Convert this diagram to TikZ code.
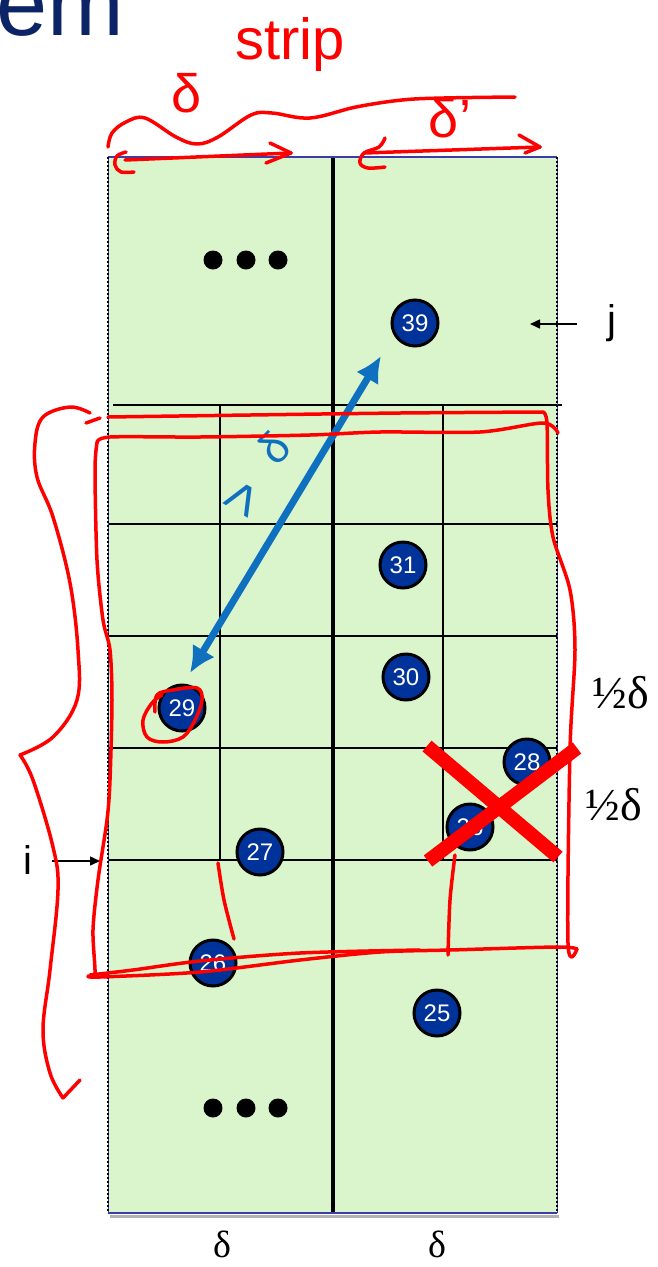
\documentclass[tikz,border=0pt]{standalone}
\usepackage{fontspec}
\setmainfont{Liberation Serif}
\setsansfont{Liberation Sans}
\usetikzlibrary{arrows.meta}
\definecolor{stripgreen}{RGB}{218,245,203}
\definecolor{ptblue}{RGB}{0,51,153}
\definecolor{titleblue}{RGB}{12,36,102}
\definecolor{annblue}{RGB}{16,112,192}
\definecolor{edgeblue}{RGB}{60,60,170}
\definecolor{penred}{RGB}{255,0,0}
\begin{document}
\begin{tikzpicture}[x=1pt,y=-1pt,
  pt/.style={circle, draw=black, line width=3pt, fill=ptblue, text=white,
    font=\sffamily\fontsize{24}{24}\selectfont, minimum size=46pt, inner sep=0pt},
  gridline/.style={black, line width=1.5pt},
  redpen/.style={penred, line width=3.5pt, line cap=round, line join=round},
  lbl/.style={inner sep=0pt, font=\sffamily\fontsize{40}{40}\selectfont},
  dlbl/.style={inner sep=0pt, font=\fontsize{46}{46}\selectfont},
  ptr/.style={black, line width=1.5pt, -{Triangle[length=10pt,width=9pt]}},
  dot/.style={black}
]
\useasboundingbox (0,0) rectangle (657,1267);

% title fragment
\node[anchor=base west, inner sep=0pt, text=titleblue,
  font=\sffamily\fontsize{92}{92}\selectfont] (title) at (-4,35) {em};

% strip background
\fill[stripgreen] (108,157) rectangle (557,1213);

% grid
\draw[gridline] (113,405) -- (562,405);
\foreach \yy in {524,636,748,860} \draw[gridline] (108,\yy) -- (557,\yy);
\draw[gridline] (220,405) -- (220,860);
\draw[gridline] (443,405) -- (443,860);

% middle line
\draw[black, line width=4pt] (333,157) -- (333,1213);

% borders
\draw[edgeblue, line width=1.5pt] (108,157) -- (557,157);
\draw[gray!60, line width=3pt] (110,1216) -- (559,1216);
\draw[edgeblue, line width=1.5pt] (108,1213) -- (557,1213);
\draw[edgeblue, line width=1pt] (108,157) -- (108,1213) (557,157) -- (557,1213);
\draw[black, line width=2pt, dash pattern=on 2pt off 2pt] (108,157) -- (108,1213) (557,157) -- (557,1213);

% ellipsis dots
\foreach \xx in {213,246,278} {
  \fill[dot] (\xx,260) circle (9.5);
  \fill[dot] (\xx,1108) circle (9.5);
}

% points
\node[pt] (n39) at (415,323) {39};
\node[pt] (n31) at (403,565) {31};
\node[pt] (n30) at (406,677) {30};
\node[pt] (n29) at (182,708) {29};
\node[pt] (n28) at (527,762) {28};
\node[pt] (n26b) at (470,827) {26};
\node[pt] (n27) at (260,852) {27};
\node[pt] (n26) at (213,963) {26};
\node[pt] (n25) at (437,1013) {25};

% j and i pointers
\node[lbl] (jlab) at (612,323) {j};
\coordinate (jfrom) at (577,324);
\coordinate (jto) at (530,324);
\draw[ptr] (jfrom) -- (jto);
\node[lbl] (ilab) at (28,860) {i};
\coordinate (ifrom) at (52,861);
\coordinate (ito) at (100,861);
\draw[ptr] (ifrom) -- (ito);

% half delta labels
\node[dlbl] (h1) at (621,693) {½δ};
\node[dlbl] (h2) at (614,805) {½δ};
% bottom delta labels
\node[dlbl, font=\fontsize{38}{38}\selectfont] (d1) at (222,1244) {δ};
\node[dlbl, font=\fontsize{38}{38}\selectfont] (d2) at (437,1244) {δ};

% blue double arrow
\coordinate (bA) at (190,673);
\coordinate (bB) at (381,356);
\draw[annblue, line width=7pt, {Latex[length=26pt,width=26pt]}-{Latex[length=26pt,width=26pt]}] (bA) -- (bB);
\node[text=annblue, rotate=-120, inner sep=0pt, font=\sffamily\fontsize{58}{58}\selectfont] (lt) at (241,498) {<};
\node[text=annblue, rotate=45, inner sep=0pt, font=\sffamily\fontsize{44}{44}\selectfont] (dl) at (274,448) {δ};

% big red X
\draw[penred, line width=14pt] (427,746) -- (558,857);
\draw[penred, line width=14pt] (577,748) -- (428,861);

% red handwriting top
\node[text=penred, inner sep=0pt, font=\sffamily\fontsize{58}{58}\selectfont] (strip) at (290,45) {strip};
\node[text=penred, inner sep=0pt, font=\sffamily\fontsize{54}{54}\selectfont] (rd1) at (187,93) {δ};
\node[text=penred, inner sep=0pt, font=\sffamily\fontsize{54}{54}\selectfont] (rd2) at (450,118) {δ'};
\draw[redpen] plot[smooth, tension=0.6] coordinates {(108,147) (112,133) (126,122) (145,118) (176,137) (197,144) (218,137) (251,115) (272,113) (310,118) (356,107) (402,100) (444,98) (515,97)};
% top arrows
\draw[redpen] plot[smooth, tension=0.6] coordinates {(126,152) (117,156) (115,165) (121,172) (134,172)};
\draw[redpen] (125,160) -- (291,153);
\draw[redpen] (270,143) -- (291,153) -- (266,163);
\draw[redpen] plot[smooth, tension=0.6] coordinates {(385,138) (379,147) (364,153) (360,163) (368,168) (385,167)};
\draw[redpen] (364,153) -- (540,147);
\draw[redpen] (519,135) -- (540,147) -- (525,153);

% left brace
\draw[redpen] plot[smooth, tension=0.6] coordinates {(90,413) (70,407) (43,417) (35,443) (37,477) (53,517) (70,583) (78,650) (77,700) (53,737) (20,755)};
\draw[redpen] plot[smooth, tension=0.6] coordinates {(20,755) (33,780) (53,847) (58,890) (50,970) (43,1030) (50,1073) (63,1098)};
\draw[redpen] (63,1098) -- (80,1080);
\draw[redpen] (86,423) -- (100,418);

% red box, stroke A
\draw[redpen] plot[smooth, tension=0.5] coordinates {(108,417) (250,415) (400,413) (543,412)};
\draw[redpen] plot[smooth, tension=0.5] coordinates {(543,412) (547,423) (548,490) (553,537) (570,590) (575,650) (570,750) (568,943) (577,949)};
\draw[redpen] plot[smooth, tension=0.5] coordinates {(577,949) (557,947) (450,950) (380,952) (300,960) (200,972) (100,977) (88,976)};
% red box, stroke B
\draw[redpen] plot[smooth, tension=0.5] coordinates {(558,433) (543,423) (480,432) (380,432) (310,435) (200,437) (110,437) (97,443)};
\draw[redpen] plot[smooth, tension=0.5] coordinates {(97,443) (95,470) (97,560) (103,620) (110,650) (112,700) (110,780) (107,820) (98,880) (93,930) (95,973) (90,975)};
\draw[redpen] plot[smooth, tension=0.5] coordinates {(90,975) (133,970) (200,961) (300,953) (420,950)};

% red ticks
\draw[redpen] plot[smooth, tension=0.5] coordinates {(218,863) (224,900) (234,939)};
\draw[redpen] plot[smooth, tension=0.5] coordinates {(455,855) (450,900) (448,955)};

% red loop around 29
\draw[redpen] plot[smooth, tension=0.6] coordinates {(155,712) (157,695) (173,690) (197,688) (202,700) (195,720) (183,737) (163,742) (147,737) (143,720) (152,703) (162,695)};
\end{tikzpicture}
\end{document}
